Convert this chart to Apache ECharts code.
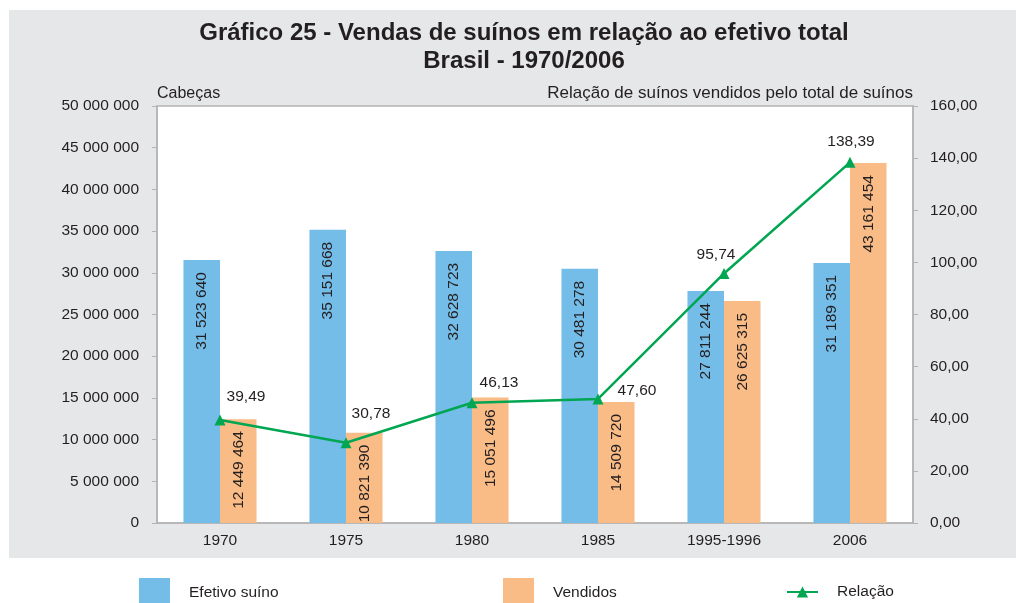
<!DOCTYPE html>
<html>
<head>
<meta charset="utf-8">
<script src="https://cdn.jsdelivr.net/npm/echarts@6/dist/echarts.min.js"></script>
<style>
  html, body { margin: 0; padding: 0; background: #fff; }
  #chart { width: 1016px; height: 603px; }
</style>
</head>
<body>
<div id="chart"></div>
<script>
const categories = ["1970", "1975", "1980", "1985", "1995-1996", "2006"];
const efetivo = [31523640, 35151668, 32628723, 30481278, 27811244, 31189351];
const vendidos = [12449464, 10821390, 15051496, 14509720, 26625315, 43161454];
const relacao = [39.49, 30.78, 46.13, 47.6, 95.74, 138.39];

// label nudges for the ratio line, as in the original layout
const relacaoLabelOffsets = [[26, -5], [25, -11], [27, -2], [39, 10], [-8, 0], [1, -2]];

const FONT = "Liberation Sans";
const TXT = "#231f20";
const AXIS = "#b4b4b4";
const FS = 15.5;

const fmtInt = (n) => String(n).replace(/\B(?=(\d{3})+(?!\d))/g, " ");
const fmtDec = (n) => n.toFixed(2).replace(".", ",");

const chart = echarts.init(document.getElementById("chart"));

const legendText = { fontFamily: FONT, fontSize: FS, color: TXT, padding: [2, 0, 0, 14] };

const barLabel = {
  show: true,
  position: "insideTop",
  rotate: 90,
  align: "right",
  verticalAlign: "middle",
  distance: 12,
  fontSize: FS,
  color: TXT,
  formatter: (p) => fmtInt(p.value),
};

chart.setOption({
  animation: false,
  textStyle: { fontFamily: FONT },
  graphic: [
    {
      type: "rect",
      shape: { x: 9, y: 10, width: 1007, height: 548 },
      style: { fill: "#e6e7e8" },
      z: -10,
    },
  ],
  title: {
    text: "Gráfico 25 - Vendas de suínos em relação ao efetivo total\nBrasil - 1970/2006",
    left: 519,
    textAlign: "center",
    top: 14,
    textStyle: {
      fontFamily: FONT,
      fontWeight: "bold",
      fontSize: 24,
      lineHeight: 28,
      color: TXT,
    },
  },
  legend: [
    {
      left: 139, bottom: -5, padding: 0, icon: "rect", itemWidth: 31, itemHeight: 30,
      textStyle: legendText, data: ["Efetivo suíno"],
    },
    {
      left: 503, bottom: -5, padding: 0, icon: "rect", itemWidth: 31, itemHeight: 30,
      textStyle: legendText, data: ["Vendidos"],
    },
    {
      left: 786, bottom: 3, padding: 0, itemWidth: 31, itemHeight: 14,
      textStyle: legendText, data: ["Relação"],
    },
  ],
  grid: {
    left: 157,
    right: 103,
    top: 106,
    bottom: 80,
    show: true,
    backgroundColor: "#fff",
    borderColor: AXIS,
    borderWidth: 1.5,
  },
  xAxis: {
    type: "category",
    data: categories,
    axisLine: { lineStyle: { color: AXIS, width: 1.5 } },
    axisTick: { show: false },
    axisLabel: { fontSize: FS, color: TXT, margin: 10 },
  },
  yAxis: [
    {
      type: "value",
      min: 0,
      max: 50000000,
      interval: 5000000,
      name: "Cabeças",
      nameLocation: "end",
      nameGap: 4,
      nameTextStyle: { fontSize: 16, color: TXT, align: "left" },
      axisLine: { show: true, lineStyle: { color: AXIS, width: 1.5 } },
      axisTick: { show: true, length: 5, lineStyle: { color: AXIS } },
      splitLine: { show: false },
      axisLabel: { fontSize: FS, color: TXT, margin: 18, formatter: (v) => fmtInt(v) },
    },
    {
      type: "value",
      min: 0,
      max: 160,
      interval: 20,
      name: "Relação de suínos vendidos pelo total de suínos",
      nameLocation: "end",
      nameGap: 4,
      nameTextStyle: { fontSize: 17, color: TXT, align: "right" },
      axisLine: { show: true, lineStyle: { color: AXIS, width: 1.5 } },
      axisTick: { show: true, length: 5, lineStyle: { color: AXIS } },
      splitLine: { show: false },
      axisLabel: { fontSize: FS, color: TXT, margin: 17, formatter: (v) => fmtDec(v) },
    },
  ],
  series: [
    {
      name: "Efetivo suíno",
      type: "bar",
      data: efetivo,
      barGap: "0%",
      barCategoryGap: "42%",
      itemStyle: { color: "#74bde8" },
      label: barLabel,
    },
    {
      name: "Vendidos",
      type: "bar",
      data: vendidos,
      itemStyle: { color: "#f9bc86" },
      label: barLabel,
    },
    {
      name: "Relação",
      type: "line",
      yAxisIndex: 1,
      data: relacao.map((v, i) => ({
        value: v,
        label: { offset: relacaoLabelOffsets[i] },
      })),
      symbol: "triangle",
      symbolSize: 11,
      lineStyle: { color: "#00a651", width: 2.5 },
      itemStyle: { color: "#00a651" },
      label: {
        show: true,
        position: "top",
        fontSize: FS,
        color: TXT,
        formatter: (p) => fmtDec(p.value),
      },
      z: 5,
    },
  ],
});
</script>
</body>
</html>
